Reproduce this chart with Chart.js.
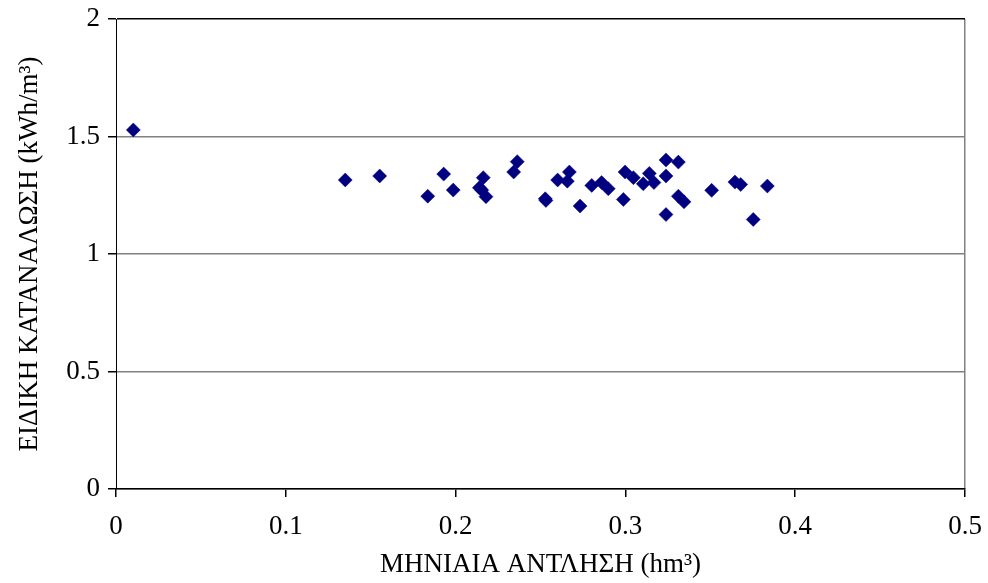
<!DOCTYPE html>
<html>
<head>
<meta charset="utf-8">
<script src="https://cdn.jsdelivr.net/npm/chart.js@4"></script>
<style>
  html, body { margin: 0; padding: 0; background: #fff; }
  #wrap { width: 988px; height: 583px; }
</style>
</head>
<body>
<div id="wrap"><canvas id="c" width="988" height="583"></canvas></div>
<script>
const xValues = [0.0102, 0.135, 0.1553, 0.1836, 0.193, 0.1986, 0.2163, 0.214, 0.2154, 0.2179,
  0.2342, 0.2363, 0.2528, 0.2532, 0.2601, 0.267, 0.2658, 0.2733, 0.2802, 0.286,
  0.2899, 0.2988, 0.2998, 0.3047, 0.3105, 0.3141, 0.3168, 0.3239, 0.3312, 0.3239,
  0.3312, 0.3345, 0.3239, 0.3508, 0.3645, 0.3679, 0.3753, 0.3836];
const yValues = [1.528, 1.315, 1.332, 1.246, 1.340, 1.272, 1.325, 1.282, 1.272, 1.244,
  1.349, 1.393, 1.235, 1.228, 1.315, 1.349, 1.310, 1.204, 1.292, 1.304,
  1.278, 1.232, 1.349, 1.325, 1.299, 1.343, 1.304, 1.400, 1.391, 1.332,
  1.246, 1.222, 1.168, 1.271, 1.306, 1.296, 1.147, 1.289];
const xTicks = [0, 0.1, 0.2, 0.3, 0.4, 0.5];
const yTicks = [0, 0.5, 1, 1.5, 2];
const xTitle = 'ΜΗΝΙΑΙΑ ΑΝΤΛΗΣΗ (hm³)';
const yTitle = 'ΕΙΔΙΚΗ ΚΑΤΑΝΑΛΩΣΗ (kWh/m³)';

const points = xValues.map((x, i) => ({ x: x, y: yValues[i] }));
const font = { family: "'Liberation Serif', 'DejaVu Serif', serif", size: 27 };

new Chart(document.getElementById('c'), {
  type: 'scatter',
  data: {
    datasets: [{
      data: points,
      pointStyle: 'rectRot',
      pointRadius: 7,
      pointHoverRadius: 7,
      backgroundColor: '#000080',
      borderColor: '#000080',
      borderWidth: 0.5
    }]
  },
  options: {
    responsive: false,
    animation: false,
    layout: { padding: { top: 19, right: 23, left: 0, bottom: 0 } },
    plugins: { legend: { display: false }, tooltip: { enabled: false } },
    scales: {
      x: {
        type: 'linear',
        min: 0, max: 0.5,
        afterBuildTicks: s => { s.ticks = xTicks.map(v => ({ value: v })); },
        afterFit: s => { s.height = 94; s.paddingLeft = 0; s.paddingRight = 0; },
        ticks: {
          font: font, color: '#000', padding: 14, maxRotation: 0,
          callback: v => String(v)
        },
        grid: {
          color: ctx => (ctx.tick && ctx.tick.value === 0.5) ? '#808080' : 'rgba(0,0,0,0)',
          lineWidth: 1.5,
          tickColor: '#000',
          tickLength: 8,
          drawTicks: true
        },
        border: { display: true, color: '#000', width: 1.5 },
        title: { display: true, text: xTitle, font: font, color: '#000', padding: { top: 0, bottom: 2 } }
      },
      y: {
        type: 'linear',
        min: 0, max: 2,
        afterBuildTicks: s => { s.ticks = yTicks.map(v => ({ value: v })); },
        afterFit: s => { s.width = 116; s.paddingTop = 0; s.paddingBottom = 0; },
        ticks: {
          font: font, color: '#000', padding: 8,
          callback: v => String(v)
        },
        grid: {
          color: ctx => (ctx.tick && ctx.tick.value === 2) ? '#000' : '#808080',
          lineWidth: 1.5,
          tickColor: '#000',
          tickLength: 8,
          drawTicks: true
        },
        border: { display: true, color: '#000', width: 1 },
        title: { display: true, text: yTitle, font: font, color: '#000', padding: { top: 14, bottom: 0 } }
      }
    }
  }
});
</script>
</body>
</html>
